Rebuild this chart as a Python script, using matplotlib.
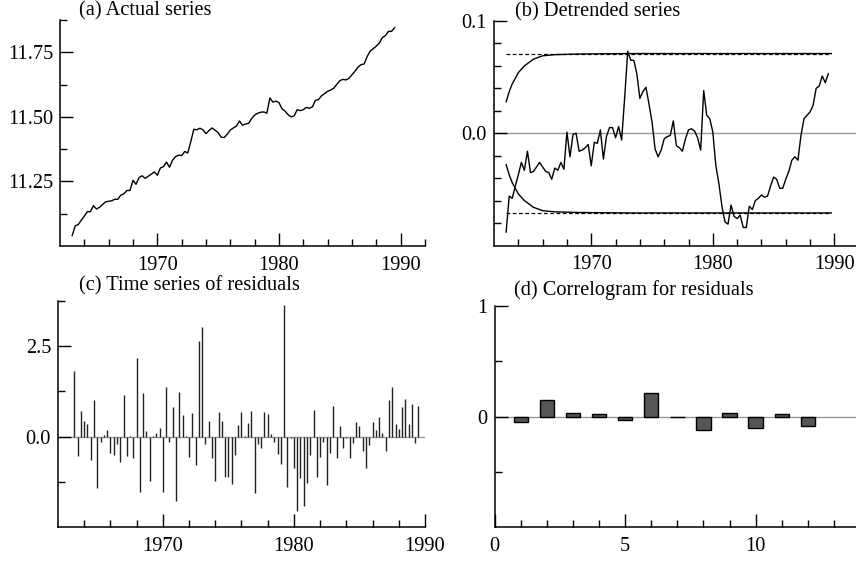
import numpy as np
import matplotlib.pyplot as plt
from matplotlib.ticker import FixedLocator, FormatStrFormatter

plt.rcParams['font.family'] = ['Liberation Serif', 'DejaVu Serif']
plt.rcParams['font.size'] = 14.7

# quarterly data, 1963Q1 .. 1989Q3
start_year = 1963.0
n_obs = 107

actual = [
    11.040, 11.078, 11.083, 11.100, 11.116, 11.133, 11.133, 11.156, 11.143, 11.150,
    11.161, 11.171, 11.173, 11.175, 11.181, 11.181, 11.197, 11.202, 11.215, 11.215,
    11.254, 11.239, 11.265, 11.272, 11.262, 11.270, 11.278, 11.287, 11.274, 11.302,
    11.307, 11.325, 11.305, 11.332, 11.346, 11.352, 11.350, 11.366, 11.360, 11.404,
    11.452, 11.450, 11.456, 11.450, 11.435, 11.447, 11.457, 11.448, 11.439, 11.421,
    11.420, 11.433, 11.449, 11.457, 11.464, 11.484, 11.468, 11.472, 11.475, 11.493,
    11.507, 11.514, 11.518, 11.519, 11.514, 11.573, 11.557, 11.561, 11.555, 11.531,
    11.522, 11.508, 11.500, 11.504, 11.528, 11.524, 11.528, 11.537, 11.533, 11.539,
    11.564, 11.567, 11.582, 11.590, 11.599, 11.604, 11.611, 11.626, 11.640, 11.645,
    11.643, 11.649, 11.663, 11.677, 11.693, 11.702, 11.705, 11.734, 11.755, 11.764,
    11.774, 11.786, 11.807, 11.815, 11.831, 11.831, 11.845,
]

detrended = [
    -0.088, -0.056, -0.058, -0.047, -0.037, -0.026, -0.033, -0.016, -0.035, -0.034,
    -0.030, -0.026, -0.030, -0.034, -0.035, -0.041, -0.031, -0.033, -0.026, -0.032,
    0.001, -0.021, -0.001, 0.000, -0.016, -0.015, -0.013, -0.010, -0.029, -0.008,
    -0.009, 0.003, -0.023, -0.003, 0.005, 0.005, -0.004, 0.006, -0.006, 0.032,
    0.073, 0.065, 0.065, 0.053, 0.031, 0.037, 0.041, 0.026, 0.010, -0.014,
    -0.021, -0.015, -0.005, -0.003, -0.002, 0.011, -0.011, -0.013, -0.016, -0.005,
    0.003, 0.004, 0.002, -0.004, -0.015, 0.038, 0.016, 0.013, 0.001, -0.029,
    -0.045, -0.065, -0.079, -0.081, -0.064, -0.074, -0.076, -0.073, -0.084, -0.084,
    -0.065, -0.068, -0.060, -0.058, -0.055, -0.057, -0.056, -0.047, -0.039, -0.041,
    -0.049, -0.049, -0.041, -0.034, -0.024, -0.021, -0.024, -0.002, 0.013, 0.016,
    0.019, 0.025, 0.040, 0.042, 0.051, 0.045, 0.053,
]

# confidence band around the detrended series
band_t = [1963.0, 1963.25, 1963.5, 1963.75, 1964.0, 1964.25, 1964.5, 1964.75,
          1965.0, 1965.25, 1965.5, 1965.75, 1966.0, 1966.5, 1967.0, 1968.0,
          1969.0, 1973.0, 1989.75]
band_v = [0.028, 0.037, 0.044, 0.049, 0.054, 0.057, 0.060, 0.062,
          0.064, 0.066, 0.067, 0.068, 0.069, 0.0695, 0.070, 0.0703,
          0.0706, 0.071, 0.071]
band_level = 0.071

# residuals start one quarter later
resid_start = 1963.25
residuals = [
    1.82, -0.55, 0.72, 0.43, 0.34, -0.66, 1.00, -1.42, -0.16, 0.05,
    0.17, -0.44, -0.50, -0.21, -0.71, 1.15, -0.54, 0.03, -0.60, 2.16,
    -1.53, 1.21, 0.16, -1.22, 0.02, 0.09, 0.23, -1.52, 1.36, -0.16,
    0.83, -1.79, 1.24, 0.60, 0.02, -0.56, 0.66, -0.78, 2.65, 3.03,
    -0.21, 0.44, -0.60, -1.24, 0.68, 0.43, -1.13, -1.13, -1.30, -0.52,
    0.32, 0.69, 0.03, 0.38, 0.72, -1.56, -0.21, -0.32, 0.69, 0.62,
    0.07, -0.14, -0.49, -0.76, 3.63, -1.40, -0.03, -0.87, -2.07, -1.15,
    -1.93, -1.29, -0.51, 0.73, -1.13, -0.57, -0.16, -1.33, -0.46, 0.85,
    -0.60, 0.29, -0.32, -0.05, -0.60, -0.18, 0.39, 0.28, -0.39, -0.87,
    -0.23, 0.41, 0.17, 0.55, 0.09, -0.39, 1.00, 1.38, 0.34, 0.21,
    0.82, 1.03, 0.34, 0.89, -0.18, 0.84,
]

lags = [1, 2, 3, 4, 5, 6, 7, 8, 9, 10, 11, 12]
acf = [-0.05, 0.15, 0.03, 0.025, -0.03, 0.21, -0.005, -0.125, 0.03, -0.10, 0.02, -0.09]

t = start_year + 0.25 * np.arange(n_obs)
t_res = resid_start + 0.25 * np.arange(len(residuals))

W, H = 856, 561
fig = plt.figure(figsize=(W / 100, H / 100), dpi=100)


def axes_px(left, top, right, bottom):
    return fig.add_axes([left / W, 1 - bottom / H, (right - left) / W, (bottom - top) / H])


def style(ax):
    ax.spines['top'].set_visible(False)
    ax.spines['right'].set_visible(False)
    for s in ['left', 'bottom']:
        ax.spines[s].set_linewidth(1.1)
    ax.tick_params(which='major', direction='in', length=9.5, width=1.0, pad=5)
    ax.tick_params(which='minor', direction='in', length=5, width=1.0)
    ax.tick_params(axis='x', which='major', pad=7)


def year_axis(ax, lo, hi):
    ax.set_xlim(lo, hi)
    ax.xaxis.set_major_locator(FixedLocator([1970, 1980, 1990]))
    ax.xaxis.set_minor_locator(FixedLocator(np.arange(1964, 1993, 2)))


# (a) actual series
ax1 = axes_px(60, 20, 425, 246)
style(ax1)
ax1.plot(t, actual, color='black', lw=1.0)
year_axis(ax1, 1962, 1992)
ax1.set_ylim(11.0, 11.875)
ax1.yaxis.set_major_locator(FixedLocator([11.25, 11.5, 11.75]))
ax1.yaxis.set_minor_locator(FixedLocator([11.125, 11.375, 11.625, 11.875]))
ax1.yaxis.set_major_formatter(FormatStrFormatter('%.2f'))
fig.text(79 / W, 1 - 11 / H, '(a) Actual series', va='center', ha='left')

# (b) detrended series
ax2 = axes_px(494, 21, 858.7, 245.5)
style(ax2)
ax2.axhline(0, color='#999999', lw=1.0, zorder=1)
ax2.plot([band_t[0], band_t[-1]], [band_level, band_level], color='black', lw=0.9, ls=(0, (3, 2)))
ax2.plot([band_t[0], band_t[-1]], [-band_level, -band_level], color='black', lw=0.9, ls=(0, (3, 2)))
ax2.plot(band_t, band_v, color='black', lw=1.0)
ax2.plot(band_t, [-v for v in band_v], color='black', lw=1.0)
ax2.plot(t, detrended, color='black', lw=1.0)
year_axis(ax2, 1962, 1992)
ax2.set_ylim(-0.1, 0.1)
ax2.yaxis.set_major_locator(FixedLocator([0.0, 0.1]))
ax2.yaxis.set_minor_locator(FixedLocator([-0.08, -0.06, -0.04, -0.02, 0.02, 0.04, 0.06, 0.08]))
ax2.yaxis.set_major_formatter(FormatStrFormatter('%.1f'))
fig.text(515 / W, 1 - 12 / H, '(b) Detrended series', va='center', ha='left')

# (c) residuals
ax3 = axes_px(58, 301, 425, 527)
style(ax3)
ax3.axhline(0, color='#999999', lw=1.0, zorder=1)
ax3.vlines(t_res, 0, residuals, color='#222222', lw=1.0, zorder=2)
year_axis(ax3, 1962, 1990)
ax3.set_ylim(-2.5, 3.75)
ax3.yaxis.set_major_locator(FixedLocator([0.0, 2.5]))
ax3.yaxis.set_minor_locator(FixedLocator([-1.25, 1.25, 3.75]))
ax3.yaxis.set_major_formatter(FormatStrFormatter('%.1f'))
fig.text(79 / W, 1 - 286 / H, '(c) Time series of residuals', va='center', ha='left')

# (d) correlogram
ax4 = axes_px(494.7, 306, 860, 527)
style(ax4)
ax4.axhline(0, color='#999999', lw=1.0, zorder=1)
ax4.bar(lags, acf, width=0.55, color='#555555', edgecolor='black', lw=1.0, zorder=2)
ax4.set_xlim(0, 14)
ax4.set_ylim(-1, 1)
ax4.xaxis.set_major_locator(FixedLocator([0, 5, 10]))
ax4.xaxis.set_minor_locator(FixedLocator(np.arange(1, 15)))
ax4.yaxis.set_major_locator(FixedLocator([0, 1]))
ax4.yaxis.set_minor_locator(FixedLocator([-0.5, 0.5]))
ax4.yaxis.set_major_formatter(FormatStrFormatter('%d'))
ax4.xaxis.set_major_formatter(FormatStrFormatter('%d'))
fig.text(514 / W, 1 - 290 / H, '(d) Correlogram for residuals', va='center', ha='left')

fig.savefig('out.png', dpi=100)
